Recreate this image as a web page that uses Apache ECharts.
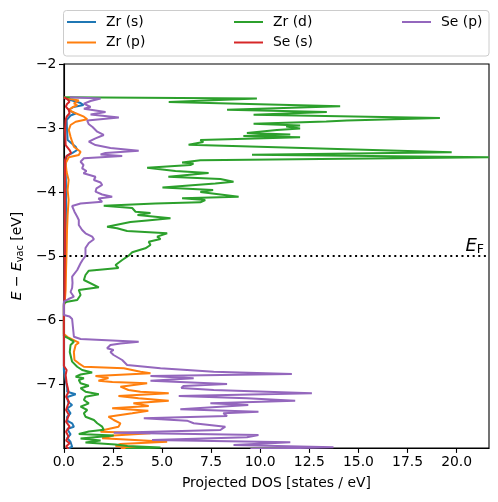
<!DOCTYPE html>
<html><head><meta charset="utf-8">
<script src="https://cdn.jsdelivr.net/npm/echarts@6/dist/echarts.min.js"></script>
<style>html,body{margin:0;padding:0;background:#fff}#c{width:498px;height:502px}</style>
</head><body><div id="c"></div>
<script>
// Each pair: [energy (eV, relative to vacuum), projected DOS (states/eV)]
const zrS = [[-2.523,0],[-2.5625,0.34],[-2.609,0.85],[-2.641,1.0],[-2.672,0.49],[-2.719,0.24],[-2.75,0.42],[-2.773,0.6],[-2.805,0.34],[-2.875,0.14],[-3.031,0.16],[-3.1875,0.19],[-3.292,0.6],[-3.344,0.68],[-3.39,0.44],[-3.4375,0.14],[-3.578,0.09],[-3.969,0.11],[-4.4375,0.11],[-4.906,0.09],[-5.375,0.06],[-5.719,0.03],[-5.766,0],[-6.781,0],[-6.9375,0.09],[-7.0625,0.17],[-7.12,0.17],[-7.161,0.6],[-7.203,0.17],[-7.277,0.21],[-7.328,0.42],[-7.38,0.17],[-7.458,0.34],[-7.516,0.16],[-7.578,0.19],[-7.614,0.42],[-7.667,0.51],[-7.703,0.17],[-7.786,0.34],[-7.844,0.17],[-7.906,0.34],[-7.98,0.42],[-8.016,0.17]];
const zrP = [[-2.523,0],[-2.547,0.34],[-2.57,0.76],[-2.614,0.51],[-2.641,0.68],[-2.68,0.42],[-2.719,0.25],[-2.77,0.6],[-2.823,1.02],[-2.864,1.19],[-2.902,0.6],[-2.953,0.34],[-3.031,0.25],[-3.136,0.34],[-3.214,0.42],[-3.292,0.51],[-3.37,0.85],[-3.422,0.76],[-3.458,0.25],[-3.552,0.09],[-3.6875,0.14],[-3.8125,0.24],[-3.969,0.19],[-4.125,0.24],[-4.36,0.19],[-4.594,0.16],[-4.906,0.14],[-5.219,0.11],[-5.531,0.09],[-5.734,0.04],[-5.78,0],[-6.22,0],[-6.266,0.19],[-6.355,0.76],[-6.39,0.6],[-6.5,0.51],[-6.625,0.54],[-6.677,0.76],[-6.73,1.02],[-6.755,3.05],[-6.808,3.9],[-6.833,4.41],[-6.875,1.61],[-6.906,2.27],[-6.948,1.76],[-6.969,2.47],[-6.989,4.24],[-7.042,2.88],[-7.094,3.29],[-7.12,3.9],[-7.145,5.34],[-7.1875,2.78],[-7.223,3.8],[-7.261,5.34],[-7.302,3.54],[-7.344,4.32],[-7.38,2.46],[-7.417,4.3],[-7.458,3.48],[-7.511,2.27],[-7.5625,2.54],[-7.614,2.88],[-7.667,2.78],[-7.719,2.03],[-7.745,1.87],[-7.77,4.41],[-7.805,2.53],[-7.848,1.95],[-7.901,5.26],[-7.9375,2.88],[-7.969,2.63],[-7.995,3.65],[-8.016,2.9]];
const zrD = [[-2.52,0],[-2.539,9.83],[-2.594,5.34],[-2.661,14.07],[-2.714,8.31],[-2.75,13.39],[-2.792,9.66],[-2.844,19.15],[-2.883,14.41],[-2.898,13.36],[-2.933,9.66],[-2.961,12.03],[-2.977,11.32],[-3.008,12.03],[-3.031,10.85],[-3.078,9.32],[-3.102,11.53],[-3.125,9.14],[-3.145,12.03],[-3.1875,6.95],[-3.219,7.1],[-3.261,6.35],[-3.38,19.75],[-3.417,9.58],[-3.458,21.64],[-3.505,6.95],[-3.523,6.44],[-3.539,6.02],[-3.555,6.6],[-3.578,6.44],[-3.62,4.24],[-3.672,5.68],[-3.703,7.37],[-3.761,5.32],[-3.797,7.97],[-3.839,8.64],[-3.867,7.71],[-3.93,5.02],[-3.969,7.6],[-4.0,6.95],[-4.073,8.9],[-4.098,6.02],[-4.125,7.2],[-4.161,6.95],[-4.18,4.66],[-4.214,2.03],[-4.25,3.48],[-4.308,3.65],[-4.328,4.41],[-4.36,3.75],[-4.411,5.43],[-4.445,4.24],[-4.469,3.39],[-4.542,2.2],[-4.567,2.71],[-4.609,3.22],[-4.645,5.26],[-4.698,4.75],[-4.734,4.92],[-4.777,4.32],[-4.828,4.41],[-4.88,4.15],[-4.942,3.48],[-4.995,3.3],[-5.0625,2.97],[-5.14,2.63],[-5.1875,2.78],[-5.23,1.27],[-5.297,1.1],[-5.375,1.02],[-5.489,1.78],[-5.531,0.76],[-5.609,0.85],[-5.6875,0.68],[-5.714,0.17],[-5.739,0],[-6.25,0],[-6.286,0.24],[-6.339,0.51],[-6.39,0.34],[-6.5,0.3],[-6.651,0.42],[-6.73,0.68],[-6.781,0.93],[-6.82,1.44],[-6.852,0.85],[-6.886,0.6],[-6.911,1.02],[-6.9375,0.76],[-6.989,0.85],[-7.027,1.27],[-7.067,0.85],[-7.12,1.1],[-7.161,1.78],[-7.198,1.1],[-7.25,1.02],[-7.302,1.27],[-7.355,0.85],[-7.406,1.19],[-7.458,1.02],[-7.511,1.1],[-7.5625,1.53],[-7.614,1.7],[-7.667,1.95],[-7.714,2.03],[-7.742,1.27],[-7.781,0.76],[-7.805,2.54],[-7.828,1.7],[-7.852,0.85],[-7.883,1.87],[-7.914,1.1],[-7.945,2.63],[-7.969,3.24],[-7.992,4.92],[-8.016,3.14]];
const seS = [[-2.523,0],[-2.547,0.17],[-2.589,0.29],[-2.625,0.16],[-2.667,0.1],[-2.719,0.25],[-2.77,0.29],[-2.823,0.14],[-2.875,0.09],[-3.031,0.06],[-3.266,0.09],[-3.344,0.29],[-3.39,0.37],[-3.4375,0.14],[-3.5,0.06],[-4.125,0.05],[-4.906,0.05],[-5.6875,0.03],[-5.75,0],[-6.719,0],[-6.781,0.14],[-6.859,0.09],[-6.984,0.14],[-7.12,0.24],[-7.198,0.11],[-7.277,0.26],[-7.406,0.11],[-7.484,0.26],[-7.589,0.11],[-7.667,0.29],[-7.745,0.11],[-7.823,0.24],[-7.883,0.11],[-7.927,0.29],[-7.977,0.11],[-8.016,0.24]];
const seP = [[-2.52,0.3],[-2.539,1.87],[-2.578,1.36],[-2.62,1.02],[-2.672,1.36],[-2.698,1.02],[-2.75,2.12],[-2.789,1.36],[-2.836,2.8],[-2.883,1.19],[-2.9375,1.26],[-2.984,1.46],[-3.058,1.7],[-3.109,2.03],[-3.161,1.61],[-3.214,1.27],[-3.266,1.61],[-3.3125,2.37],[-3.355,3.81],[-3.39,2.12],[-3.414,1.87],[-3.4375,2.97],[-3.473,1.02],[-3.527,0.85],[-3.578,1.0],[-3.63,0.93],[-3.672,1.15],[-3.708,1.0],[-3.761,1.61],[-3.8125,1.53],[-3.852,1.87],[-3.89,1.95],[-3.942,1.66],[-3.995,1.61],[-4.039,1.95],[-4.073,2.46],[-4.102,1.76],[-4.152,1.95],[-4.18,0.85],[-4.219,0.42],[-4.308,0.54],[-4.386,0.68],[-4.4375,0.76],[-4.516,0.76],[-4.594,0.93],[-4.645,1.1],[-4.698,1.44],[-4.739,1.53],[-4.797,1.27],[-4.875,1.1],[-5.0,1.1],[-5.0625,0.95],[-5.114,0.85],[-5.219,0.68],[-5.323,0.42],[-5.42,0.44],[-5.5,0.42],[-5.5625,0.34],[-5.636,0.51],[-5.672,0.24],[-5.714,0],[-5.922,0],[-5.945,0.29],[-5.984,0.42],[-6.261,0.51],[-6.297,0.85],[-6.339,3.81],[-6.367,2.88],[-6.39,2.37],[-6.442,2.2],[-6.469,2.53],[-6.5,2.37],[-6.547,2.53],[-6.625,2.97],[-6.703,3.22],[-6.755,4.92],[-6.808,7.63],[-6.844,11.61],[-6.875,4.41],[-6.911,6.61],[-6.948,4.41],[-7.0,8.31],[-7.031,6.09],[-7.0625,5.98],[-7.094,7.63],[-7.145,12.63],[-7.1875,5.85],[-7.223,9.32],[-7.261,11.78],[-7.302,7.46],[-7.328,9.39],[-7.355,7.97],[-7.395,5.93],[-7.433,9.91],[-7.458,8.12],[-7.5,8.31],[-7.536,4.07],[-7.573,6.27],[-7.614,6.61],[-7.667,8.22],[-7.719,7.97],[-7.761,2.54],[-7.797,9.91],[-7.833,9.32],[-7.875,4.49],[-7.911,11.53],[-7.953,8.64],[-7.989,13.73],[-8.016,9.5]];

const seriesNames = ['Zr (s)', 'Zr (p)', 'Zr (d)', 'Se (s)', 'Se (p)'];
const seriesColors = ['#1f77b4', '#ff7f0e', '#2ca02c', '#d62728', '#9467bd'];
const seriesData = [zrS, zrP, zrD, seS, seP];
const xTicks = [0, 2.5, 5, 7.5, 10, 12.5, 15, 17.5, 20];
const yTicks = [-7, -6, -5, -4, -3, -2];
const fermiLevel = -5;
const xMax = 21.65, yMin = -8, yMax = -2;

const FONT = 'DejaVu Sans';
const FS = 13.9;
const chart = echarts.init(document.getElementById('c'), null, {renderer: 'canvas'});

const series = seriesNames.map((n, i) => ({
  name: n, type: 'line', symbol: 'none', showSymbol: false, smooth: false,
  data: seriesData[i].map(p => [p[1], p[0]]),
  lineStyle: {color: seriesColors[i], width: 2},
  itemStyle: {color: seriesColors[i]},
  emphasis: {disabled: true}, silent: true, clip: true
}));
series.push({
  name: 'EF', type: 'line', data: [], silent: true,
  markLine: {
    silent: true, symbol: 'none', animation: false,
    data: [{yAxis: fermiLevel}],
    lineStyle: {color: '#000', width: 2, type: [2, 3.6]},
    label: {
      show: true, position: 'insideEndTop', distance: [5, 0],
      formatter: '{e|E}{f|F}',
      rich: {
        e: {fontFamily: FONT, fontStyle: 'italic', fontSize: 18, color: '#000', lineHeight: 20},
        f: {fontFamily: FONT, fontSize: 12.5, color: '#000', lineHeight: 12, padding: [9, 0, 0, 0], verticalAlign: 'bottom'}
      }
    }
  }
});

const legendCommon = {
  orient: 'vertical', itemWidth: 29, itemHeight: 14, itemGap: 6.5,
  icon: 'path://M0,6 L29,6 L29,8 L0,8 Z',
  textStyle: {fontFamily: FONT, fontSize: FS, color: '#000', lineHeight: 14, padding: [0, 0, 0, 5]},
  top: 15, padding: 0, selectedMode: false
};

chart.setOption({
  animation: false,
  backgroundColor: '#fff',
  grid: {left: 63.3, right: 9, top: 64, bottom: 54, show: true, borderColor: '#000', borderWidth: 1.1, backgroundColor: 'transparent'},
  legend: [
    Object.assign({}, legendCommon, {left: 67, data: seriesNames.slice(0, 2)}),
    Object.assign({}, legendCommon, {left: 234, data: seriesNames.slice(2, 4)}),
    Object.assign({}, legendCommon, {left: 402, data: seriesNames.slice(4)})
  ],
  graphic: [{
    type: 'rect', z: 0, silent: true,
    shape: {x: 63.5, y: 10.5, width: 425.5, height: 45.5, r: 3},
    style: {fill: 'rgba(255,255,255,0.8)', stroke: '#cccccc', lineWidth: 1}
  }],
  xAxis: {
    type: 'value', min: 0, max: xMax,
    name: 'Projected DOS [states / eV]', nameLocation: 'middle', nameGap: 28,
    nameTextStyle: {fontFamily: FONT, fontSize: FS, color: '#000'},
    axisLine: {show: true, onZero: false, lineStyle: {color: '#000', width: 1.1}},
    axisTick: {show: true, length: 4.9, lineStyle: {color: '#000', width: 1.1}, customValues: xTicks},
    axisLabel: {fontFamily: FONT, fontSize: FS, color: '#000', margin: 7, customValues: xTicks, formatter: v => v.toFixed(1)},
    splitLine: {show: false}
  },
  yAxis: {
    type: 'value', min: yMin, max: yMax,
    name: '{i|E} − {i|E}{s|vac} [eV]', nameLocation: 'middle', nameGap: 38, nameRotate: 90,
    nameTextStyle: {fontFamily: FONT, fontSize: FS, color: '#000',
      rich: {
        i: {fontFamily: FONT, fontStyle: 'italic', fontSize: FS, color: '#000', lineHeight: 16},
        s: {fontFamily: FONT, fontSize: 9.7, color: '#000', lineHeight: 10, padding: [7, 0, 0, 0], verticalAlign: 'bottom'}
      }},
    axisLine: {show: true, onZero: false, lineStyle: {color: '#000', width: 1.1}},
    axisTick: {show: true, length: 4.9, lineStyle: {color: '#000', width: 1.1}, customValues: yTicks},
    axisLabel: {fontFamily: FONT, fontSize: FS, color: '#000', margin: 7.5, customValues: yTicks, formatter: v => (v < 0 ? '\u2212' : '') + Math.abs(v)},
    splitLine: {show: false}
  },
  series: series
});
</script></body></html>
